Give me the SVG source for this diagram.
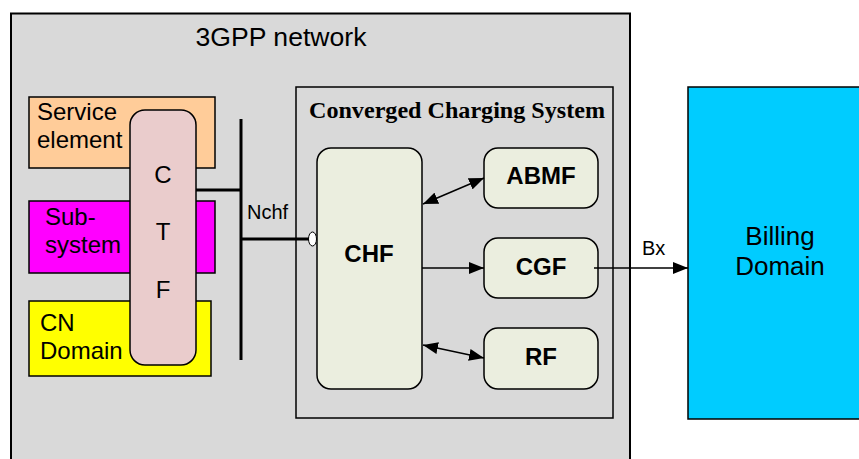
<svg xmlns="http://www.w3.org/2000/svg" width="859" height="459" viewBox="0 0 859 459">
<style>
.t{font-family:"Liberation Sans",Arial,sans-serif;font-size:24px;fill:#000}
.b{font-family:"Liberation Sans",Arial,sans-serif;font-size:24px;font-weight:bold;fill:#000;text-anchor:middle}
.box{stroke:#000;stroke-width:1.5}
.fn{fill:#EBEEDF;stroke:#000;stroke-width:1.5}
.ln{stroke:#000;stroke-width:1.5;fill:none}
</style>
<defs>
<marker id="ahb" viewBox="0 0 15 12" refX="15" refY="6" markerWidth="15" markerHeight="12" markerUnits="userSpaceOnUse" orient="auto-start-reverse">
<path d="M0,0 L15,6 L0,12 z" fill="#000"/>
</marker>
</defs>
<rect width="859" height="459" fill="#fff"/>
<g id="network">
<rect x="11" y="13.5" width="619" height="460" fill="#D9D9D9" stroke="#000" stroke-width="2"/>
<text x="281" y="46" class="t" text-anchor="middle" style="font-size:26px" textLength="171" lengthAdjust="spacingAndGlyphs">3GPP network</text>
</g>
<g id="service-element">
<rect x="29" y="97" width="186" height="71" fill="#FFCC99" class="box"/>
<text x="37" y="120" class="t">Service</text>
<text x="37" y="148" class="t">element</text>
</g>
<g id="sub-system">
<rect x="29" y="201" width="186" height="72" fill="#FF00FF" class="box"/>
<text x="45" y="225" class="t">Sub-</text>
<text x="45" y="253" class="t">system</text>
</g>
<g id="cn-domain">
<rect x="29" y="301" width="182" height="75" fill="#FFFF00" class="box"/>
<text x="40" y="331" class="t">CN</text>
<text x="40" y="359" class="t">Domain</text>
</g>
<g id="ctf">
<rect x="130" y="110" width="66" height="255" rx="15" fill="#EACCCC" class="box"/>
<text x="163" y="183" class="t" text-anchor="middle">C</text>
<text x="163" y="240" class="t" text-anchor="middle">T</text>
<text x="163" y="298" class="t" text-anchor="middle">F</text>
</g>
<g id="ccs">
<rect x="296" y="87" width="317" height="331" fill="#D9D9D9" class="box"/>
<text x="457" y="118" font-family="'Liberation Serif','Times New Roman',serif" font-size="24" font-weight="bold" text-anchor="middle" textLength="296" lengthAdjust="spacingAndGlyphs">Converged Charging System</text>
</g>
<g id="chf">
<rect x="317" y="148" width="105" height="241" rx="14" class="fn"/>
<text x="369" y="262" class="b">CHF</text>
</g>
<g id="abmf">
<rect x="484" y="148" width="114" height="60" rx="14" class="fn"/>
<text x="541" y="184" class="b">ABMF</text>
</g>
<g id="cgf">
<rect x="484" y="238" width="114" height="60" rx="14" class="fn"/>
<text x="541" y="275" class="b">CGF</text>
</g>
<g id="rf">
<rect x="484" y="328" width="114" height="61" rx="14" class="fn"/>
<text x="541" y="365" class="b">RF</text>
</g>
<g id="billing-domain">
<rect x="688" y="87" width="180" height="332" fill="#00CCFF" class="box"/>
<text x="780" y="245" class="t" text-anchor="middle" style="font-size:26px">Billing</text>
<text x="780" y="275" class="t" text-anchor="middle" style="font-size:26px">Domain</text>
</g>
<g id="connectors">
<line x1="241" y1="119" x2="241" y2="360" stroke="#000" stroke-width="3"/>
<line x1="196" y1="190" x2="241" y2="190" stroke="#000" stroke-width="3"/>
<line x1="241" y1="239" x2="312" y2="239" stroke="#000" stroke-width="3"/>
<ellipse cx="312.5" cy="239" rx="4" ry="7" fill="#fff" stroke="#000" stroke-width="1"/>
<text x="247" y="219" class="t" style="font-size:20px">Nchf</text>
<line x1="423" y1="204" x2="484" y2="178" class="ln" marker-start="url(#ahb)" marker-end="url(#ahb)"/>
<line x1="422" y1="268" x2="484" y2="268" class="ln" marker-end="url(#ahb)"/>
<line x1="423" y1="345" x2="484" y2="358" class="ln" marker-start="url(#ahb)" marker-end="url(#ahb)"/>
<line x1="594" y1="268" x2="688" y2="268" class="ln" marker-end="url(#ahb)"/>
<text x="642" y="255" class="t" style="font-size:20px">Bx</text>
</g>
</svg>
